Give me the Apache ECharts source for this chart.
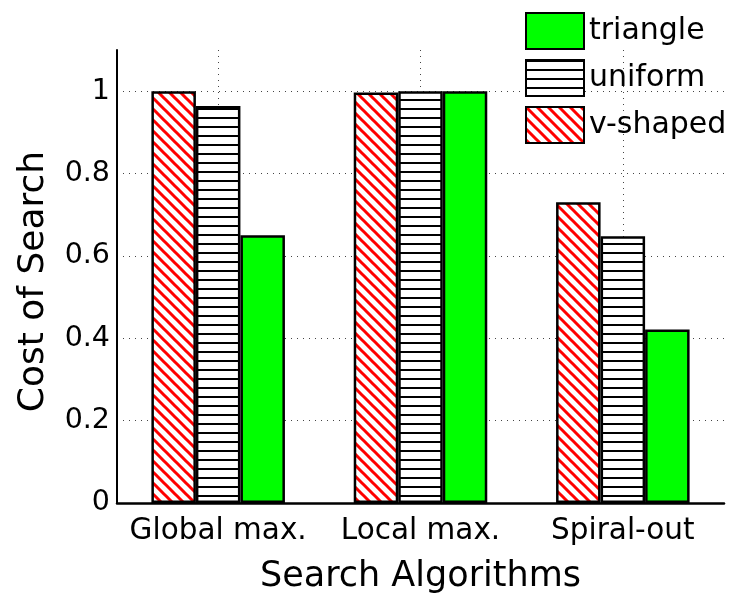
<!DOCTYPE html>
<html>
<head>
<meta charset="utf-8">
<script src="https://cdn.jsdelivr.net/npm/echarts@6/dist/echarts.min.js"></script>
<style>
  html, body { margin: 0; padding: 0; background: #fff; }
  #chart { width: 734px; height: 599px; }
</style>
</head>
<body>
<div id="chart"></div>
<script>
// Search cost per algorithm, for three distributions
const categories = ['Global max.', 'Local max.', 'Spiral-out'];
const vShaped = [1.0, 0.997, 0.730];
const uniform = [0.964, 1.0, 0.648];
const triangle = [0.650, 1.0, 0.421];
const yTicks = [0, 0.2, 0.4, 0.6, 0.8, 1];
const legendOrder = ['triangle', 'uniform', 'v-shaped'];

const FONT = 'DejaVu Sans';

// Red "\" hatching on white
function diagonalHatch() {
  const s = 11;
  const c = document.createElement('canvas');
  c.width = s; c.height = s;
  const g = c.getContext('2d');
  g.fillStyle = '#fff';
  g.fillRect(0, 0, s, s);
  g.strokeStyle = '#ff0000';
  g.lineWidth = 3;
  g.beginPath();
  g.moveTo(-3, -3); g.lineTo(s + 3, s + 3);
  g.moveTo(-3, s - 3); g.lineTo(3, s + 3);
  g.moveTo(s - 3, -3); g.lineTo(s + 3, 3);
  g.stroke();
  return { image: c, repetition: 'repeat' };
}

// Black horizontal rules on white
function horizontalHatch() {
  const h = 9;
  const c = document.createElement('canvas');
  c.width = 4; c.height = h;
  const g = c.getContext('2d');
  g.fillStyle = '#fff';
  g.fillRect(0, 0, 4, h);
  g.fillStyle = '#000';
  g.fillRect(0, 0, 4, 2);
  return { image: c, repetition: 'repeat' };
}

const dotted = { color: '#444', width: 1, type: [1, 5] };

const barBase = {
  type: 'bar',
  barWidth: '22%',
  barGap: '0%',
  z: 2
};

const chart = echarts.init(document.getElementById('chart'), null, { renderer: 'canvas' });
chart.setOption({
  animation: false,
  backgroundColor: '#fff',
  textStyle: { fontFamily: FONT, color: '#000' },
  grid: { left: 117, right: 10, top: 50, bottom: 92, containLabel: false },
  legend: {
    data: legendOrder,
    orient: 'vertical',
    left: 525,
    top: 12,
    padding: 0,
    itemWidth: 58,
    itemHeight: 36,
    itemGap: 9,
    icon: 'rect',
    selectedMode: false,
    textStyle: { fontFamily: FONT, fontSize: 30, color: '#000' }
  },
  xAxis: {
    type: 'category',
    data: categories,
    boundaryGap: true,
    axisLine: { lineStyle: { color: '#000', width: 2.5 } },
    axisTick: { show: false },
    axisLabel: { color: '#000', fontFamily: FONT, fontSize: 29.5, margin: 13, interval: 0 },
    splitLine: { show: true, alignWithLabel: true, lineStyle: dotted },
    name: 'Search Algorithms',
    nameLocation: 'middle',
    nameGap: 56,
    nameTextStyle: { fontFamily: FONT, fontSize: 35, color: '#000' }
  },
  yAxis: {
    type: 'value',
    min: 0,
    max: 1.1,
    interval: 0.2,
    axisLine: { show: true, lineStyle: { color: '#000', width: 2 } },
    axisTick: { show: false },
    axisLabel: {
      color: '#000', fontFamily: FONT, fontSize: 28.5, margin: 7,
      padding: [6, 0, 0, 0],
      showMaxLabel: false,
      formatter: v => (yTicks.some(t => Math.abs(t - v) < 1e-9) ? String(+v.toFixed(1)) : '')
    },
    splitLine: { show: true, showMinLine: false, showMaxLine: false, lineStyle: dotted },
    name: 'Cost of Search',
    nameLocation: 'middle',
    nameGap: 65,
    nameTextStyle: { fontFamily: FONT, fontSize: 36, color: '#000', padding: [0, 10, 0, 0] }
  },
  series: [
    Object.assign({}, barBase, {
      name: 'v-shaped',
      data: vShaped,
      itemStyle: { color: diagonalHatch(), borderColor: '#000', borderWidth: 2.5 }
    }),
    Object.assign({}, barBase, {
      name: 'uniform',
      data: uniform,
      itemStyle: { color: horizontalHatch(), borderColor: '#000', borderWidth: 2.5 }
    }),
    Object.assign({}, barBase, {
      name: 'triangle',
      data: triangle,
      itemStyle: { color: '#00ff00', borderColor: '#000', borderWidth: 2.5 }
    })
  ]
});
</script>
</body>
</html>
